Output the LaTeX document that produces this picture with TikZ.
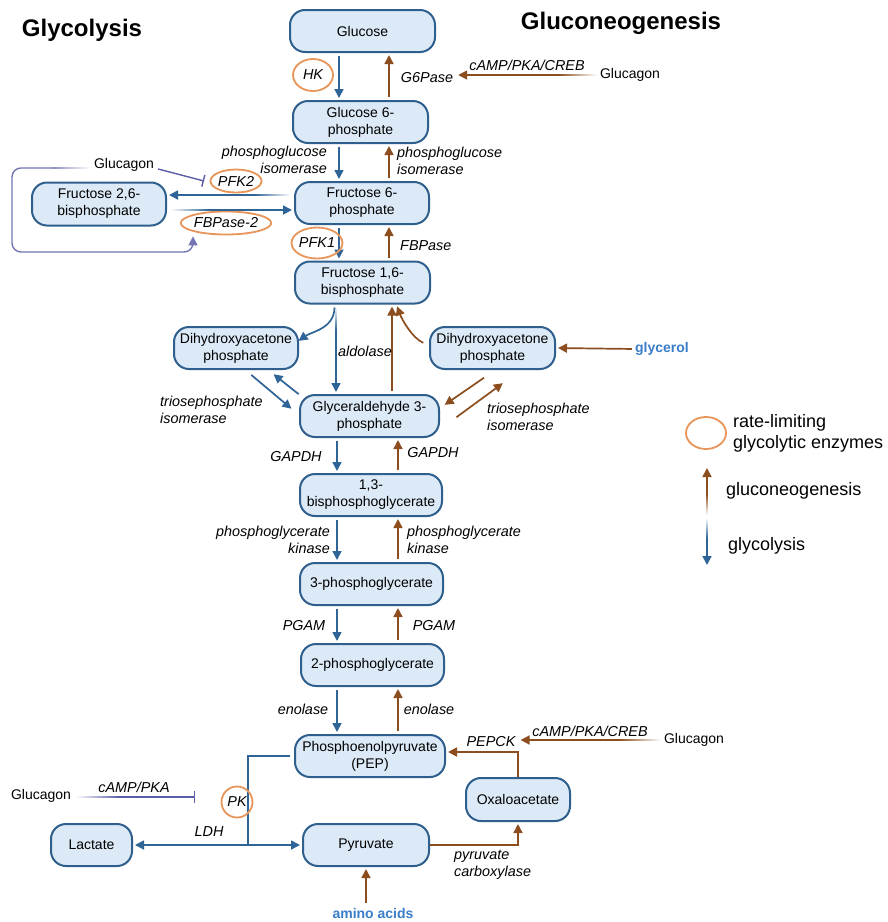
\documentclass[tikz,border=0pt]{standalone}
\usepackage{fontspec}
\setmainfont{Liberation Sans}
\usetikzlibrary{arrows.meta,shapes.geometric}
\definecolor{boxfill}{HTML}{DCEAF8}
\definecolor{boxdraw}{HTML}{2F5F8C}
\definecolor{glyc}{HTML}{2E6496}
\definecolor{gluco}{HTML}{8C4E1E}
\definecolor{rate}{HTML}{E8955A}
\definecolor{inhib}{HTML}{5A5EA6}
\definecolor{lblue}{HTML}{3A7DC9}
\tikzset{
 met/.style={draw=boxdraw, fill=boxfill, line width=2pt, rounded corners=15pt, align=center, inner sep=1pt, font=\fontsize{14}{17}\selectfont},
 enz/.style={font=\itshape\fontsize{14.4}{16.5}\selectfont, inner sep=0pt},
 rl/.style={ellipse, draw=rate, line width=1.8pt, inner sep=0pt, font=\itshape\fontsize{14.4}{16}\selectfont},
 arrowtip/.style={-{Triangle[length=9pt,width=9pt]}},
 barr/.style={draw=glyc, line width=1.7pt, arrowtip, shorten <=3pt, shorten >=2pt},
 rarr/.style={draw=gluco, line width=1.7pt, arrowtip, shorten <=3pt, shorten >=2pt},
 inh/.style={draw=inhib, line width=1.4pt, -{Bar[width=12pt]}},
 lbl/.style={font=\fontsize{14}{16}\selectfont, inner sep=0pt},
 srcb/.style={font=\bfseries\fontsize{14}{16}\selectfont, text=lblue, inner sep=0pt},
 leg/.style={font=\fontsize{18}{21}\selectfont, align=left, inner sep=0pt, anchor=west},
 ttl/.style={font=\bfseries\fontsize{24}{28}\selectfont, inner sep=0pt},
}
\begin{document}
\begin{tikzpicture}[x=1pt,y=-1pt]
\useasboundingbox (0,0) rectangle (888,922);
\fill[white] (0,0) rectangle (888,922);

% titles
\node[ttl] (t1) at (82,30) {Glycolysis};
\node[ttl] (t2) at (621,23) {Gluconeogenesis};

% metabolites
\node[met, minimum width=145pt, minimum height=42pt] (glc) at (362.5,31) {Glucose};
\node[met, minimum width=135pt, minimum height=42pt] (g6p) at (360.5,122) {Glucose 6-\\phosphate};
\node[met, minimum width=134pt, minimum height=42pt] (f6p) at (362,203) {Fructose 6-\\phosphate};
\node[met, minimum width=134pt, minimum height=43pt] (f26) at (99,204) {Fructose 2,6-\\bisphosphate};
\node[met, minimum width=135pt, minimum height=42pt] (f16) at (362.5,282.5) {Fructose 1,6-\\bisphosphate};
\node[met, minimum width=124pt, minimum height=42pt] (dhapL) at (236,348) {Dihydroxyacetone\\phosphate};
\node[met, minimum width=125pt, minimum height=42pt] (dhapR) at (492.5,348) {Dihydroxyacetone\\phosphate};
\node[met, minimum width=139pt, minimum height=42pt] (g3p) at (369.5,416) {Glyceraldehyde 3-\\phosphate};
\node[met, minimum width=142pt, minimum height=42pt] (bpg) at (371,495) {1,3-\\bisphosphoglycerate};
\node[met, minimum width=143pt, minimum height=42pt] (pg3) at (371.5,584) {3-phosphoglycerate};
\node[met, minimum width=143pt, minimum height=42pt] (pg2) at (372.5,665) {2-phosphoglycerate};
\node[met, minimum width=150pt, minimum height=42pt] (pep) at (370,756) {Phosphoenolpyruvate\\(PEP)};
\node[met, minimum width=104pt, minimum height=43pt] (oaa) at (518,799.5) {Oxaloacetate};
\node[met, minimum width=126pt, minimum height=42pt] (pyr) at (366,845) {Pyruvate};
\node[met, minimum width=81pt, minimum height=42pt] (lac) at (91.5,845) {Lactate};

% column coordinates
\coordinate (xb1) at (339,0);
\coordinate (xr1) at (389,0);
\coordinate (xb2) at (336,0);
\coordinate (xr2) at (392,0);
\coordinate (xb3) at (337,0);
\coordinate (xr3) at (398,0);

% main column arrows
\draw[barr] (glc.south -| xb1) -- (g6p.north -| xb1);
\draw[rarr] (g6p.north -| xr1) -- (glc.south -| xr1);
\draw[barr] (g6p.south -| xb1) -- (f6p.north -| xb1);
\draw[rarr] (f6p.north -| xr1) -- (g6p.south -| xr1);
\draw[barr] (f6p.south -| xb1) -- (f16.north -| xb1);
\draw[rarr] (f16.north -| xr1) -- (f6p.south -| xr1);
\coordinate (ald0) at ([yshift=-2pt]f16.south -| xb2);
\coordinate (ald1) at ([yshift=-26pt]f16.south -| xb2);
\shade[top color=white, bottom color=glyc] ([xshift=-0.85pt]ald0) rectangle ([xshift=0.85pt]ald1);
\draw[barr, shorten <=0pt] (ald1) -- (g3p.north -| xb2);
\draw[rarr] (g3p.north -| xr2) -- (f16.south -| xr2);
\draw[barr] (g3p.south -| xb3) -- (bpg.north -| xb3);
\draw[rarr] (bpg.north -| xr3) -- (g3p.south -| xr3);
\draw[barr] (bpg.south -| xb3) -- (pg3.north -| xb3);
\draw[rarr] (pg3.north -| xr3) -- (bpg.south -| xr3);
\draw[barr] (pg3.south -| xb3) -- (pg2.north -| xb3);
\draw[rarr] (pg2.north -| xr3) -- (pg3.south -| xr3);
\draw[barr] (pg2.south -| xb3) -- (pep.north -| xb3);
\draw[rarr] (pep.north -| xr3) -- (pg2.south -| xr3);

% enzymes, top
\node[rl, minimum width=40pt, minimum height=32pt] (hk) at (313,75) {HK};
\node[enz] (g6pase) at (427,78) {G6Pase};
\node[lbl] (glu0) at (630,75) {Glucagon};
\coordinate (g0a) at ([xshift=-3pt]glu0.west);
\coordinate (g0b) at ([xshift=-42pt]glu0.west);
\shade[left color=gluco, right color=white] ([yshift=0.85pt]g0b) rectangle ([yshift=-0.85pt]g0a);
\draw[rarr, shorten <=0pt, shorten >=5pt] (g0b) -- (g0b -| g6pase.east);
\node[enz] (camp0) at (527,65) {cAMP/PKA/CREB};
\node[enz, align=right, anchor=east] (pgi1) at (327,160) {phosphoglucose\\isomerase};
\node[enz, align=left, anchor=west] (pgi2) at (397,161) {phosphoglucose\\isomerase};

% fructose 2,6-bisphosphate loop
\node[rl, minimum width=51pt, minimum height=23pt] (pfk2) at (236,181) {PFK2};
\node[rl, minimum width=75pt, minimum height=23pt] (fbp2) at (226,223) {FBPase-2};
\node[lbl] (glu1) at (124,165) {Glucagon};
\coordinate (pfkbar) at (204,181);
\draw[inh] ([shift={(4pt,-4pt)}]glu1.east) -- (pfkbar);
\coordinate (lp0) at (52,168);
\coordinate (lp1) at (12,168);
\coordinate (lp2) at (12,252);
\coordinate (lp3) at (193,252);
\shade[left color=inhib!70, right color=white] ([yshift=0.7pt]lp0) rectangle ([shift={(-3pt,-0.7pt)}]glu1.west |- lp0);
\draw[draw=inhib!85, line width=1.4pt, rounded corners=9pt, arrowtip, shorten >=1pt]
  (lp0) -- (lp1) -- (lp2) -- (lp3) -- ([xshift=-33pt]fbp2.south);
\coordinate (y195) at (0,195);
\coordinate (y210) at (0,210);
\coordinate (fa0) at ([xshift=-3pt]f6p.west |- y195);
\coordinate (fa1) at ([xshift=-40pt]f6p.west |- y195);
\shade[left color=glyc, right color=white] ([yshift=0.85pt]fa1) rectangle ([yshift=-0.85pt]fa0);
\draw[barr, shorten <=0pt] (fa1) -- (f26.east |- y195);
\coordinate (fb0) at ([xshift=3pt]f26.east |- y210);
\coordinate (fb1) at ([xshift=42pt]f26.east |- y210);
\shade[left color=white, right color=glyc] ([yshift=0.85pt]fb0) rectangle ([yshift=-0.85pt]fb1);
\draw[barr, shorten <=0pt] (fb1) -- (f6p.west |- y210);
\node[rl, minimum width=40pt, minimum height=31pt] (pfk1) at (317,243) {PFK1};
\node[enz, anchor=west] (fbpase) at (400,246) {FBPase};

% aldolase / triose phosphates
\draw[barr] ([xshift=-28pt]f16.south) .. controls +(0,24) and +(14,-10) .. ([shift={(-2pt,6pt)}]dhapL.east);
\draw[rarr] ([shift={(-3pt,4pt)}]dhapR.west) .. controls +(-14,-6) and +(5,14) .. ([xshift=34pt]f16.south);
\node[enz] (ald) at (365,351) {aldolase};
\draw[barr] ([shift={(13pt,-3pt)}]dhapL.south) -- ([shift={(-6pt,6pt)}]g3p.west);
\draw[barr] ([shift={(2pt,-2pt)}]g3p.north west) -- ([shift={(36pt,-3pt)}]dhapL.south);
\draw[rarr] ([shift={(-6pt,-6pt)}]dhapR.south) -- ([shift={(3pt,10pt)}]g3p.east);
\draw[rarr] ([shift={(14pt,-3pt)}]g3p.east) -- ([shift={(12pt,-12pt)}]dhapR.south);
\node[enz, align=left, anchor=west] (tpi1) at (160,410) {triosephosphate\\isomerase};
\node[enz, align=left, anchor=west] (tpi2) at (487,417) {triosephosphate\\isomerase};
\node[srcb] (gly) at (662,349) {glycerol};
\draw[rarr] (gly.west) -- (dhapR.east);

% lower enzymes
\node[enz] (gapdh1) at (296,457) {GAPDH};
\node[enz] (gapdh2) at (433,453) {GAPDH};
\node[enz, align=right, anchor=east] (pgk1) at (330,540) {phosphoglycerate\\kinase};
\node[enz, align=left, anchor=west] (pgk2) at (407,540) {phosphoglycerate\\kinase};
\node[enz] (pgam1) at (304,626) {PGAM};
\node[enz] (pgam2) at (434,626) {PGAM};
\node[enz] (eno1) at (303,709) {enolase};
\node[enz] (eno2) at (429,709) {enolase};

% PEPCK / pyruvate carboxylase
\draw[rarr, shorten <=0pt] (oaa.north) |- ([yshift=4pt]pep.east);
\node[enz] (pepck) at (491,742) {PEPCK};
\node[lbl] (glu2) at (694,740) {Glucagon};
\coordinate (g2a) at ([xshift=-3pt]glu2.west);
\coordinate (g2b) at ([xshift=-45pt]glu2.west);
\shade[left color=gluco, right color=white] ([yshift=0.85pt]g2b) rectangle ([yshift=-0.85pt]g2a);
\draw[rarr, shorten <=0pt, shorten >=5pt] (g2b) -- (g2b -| pepck.east);
\node[enz] (camp2) at (590,731) {cAMP/PKA/CREB};
\draw[rarr, shorten <=0pt] (pyr.east) -| (oaa.south);
\node[enz, align=left, anchor=west] (pc) at (454,865) {pyruvate\\carboxylase};
\node[srcb] (aa) at (373,913) {amino acids};
\draw[rarr, shorten <=5pt] (aa.north -| pyr.south) -- (pyr.south);

% pyruvate kinase / LDH
\coordinate (pkx) at (248,0);
\draw[draw=glyc, line width=1.7pt] ([xshift=-4pt]pep.west) -| (pyr.west -| pkx);
\draw[barr, shorten <=0pt] (pyr.west -| pkx) -- (lac.east);
\draw[barr, shorten <=0pt] (pyr.west -| pkx) -- (pyr.west);
\node[rl, minimum width=31pt, minimum height=31pt] (pk) at (237,802) {PK};
\node[lbl] (glu3) at (41,796) {Glucagon};
\coordinate (pkbar) at (195,797);
\coordinate (pk0) at ([shift={(4pt,-1pt)}]glu3.east);
\coordinate (pk1) at ([shift={(48pt,-1pt)}]glu3.east);
\shade[left color=white, right color=inhib] ([yshift=0.7pt]pk0) rectangle ([yshift=-0.7pt]pk1);
\draw[inh] (pk1) -- (pkbar);
\node[enz] (camp3) at (134,787) {cAMP/PKA};
\node[enz] (ldh) at (209,832) {LDH};

% legend
\node[rl, minimum width=40pt, minimum height=32pt] (legrl) at (706,433) {};
\node[leg] (legt1) at (733,433) {rate-limiting\\glycolytic enzymes};
\coordinate (lga) at (707,515);
\coordinate (lgm) at (707,494);
\coordinate (lgb) at (707,468);
\shade[top color=gluco, bottom color=white] ([xshift=-0.85pt]lgm) rectangle ([xshift=0.85pt]lga);
\draw[rarr, shorten <=0pt, shorten >=0pt] (lgm) -- (lgb);
\node[leg] (legt2) at (726,491) {gluconeogenesis};
\coordinate (lgc) at (707,518);
\coordinate (lgn) at (707,538);
\coordinate (lgd) at (707,565);
\shade[top color=white, bottom color=glyc] ([xshift=-0.85pt]lgc) rectangle ([xshift=0.85pt]lgn);
\draw[barr, shorten <=0pt, shorten >=0pt] (lgn) -- (lgd);
\node[leg] (legt3) at (728,546) {glycolysis};
\end{tikzpicture}
\end{document}
